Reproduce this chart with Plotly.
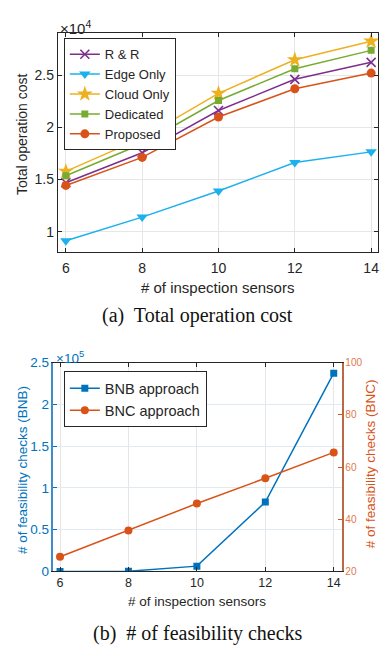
import plotly.graph_objects as go

W, H = 380, 652
def px(x): return x / W
def py(y): return 1 - y / H

# ---------------- data ----------------
sensors = [6, 8, 10, 12, 14]
rr = [14700, 17570, 21630, 24620, 26250]
edge_only = [9130, 11400, 13900, 16630, 17660]
cloud_only = [15790, 19000, 23280, 26500, 28280]
dedicated = [15370, 18440, 22590, 25630, 27400]
proposed = [14440, 17130, 21000, 23720, 25220]

bnb = [0, 300, 6300, 83000, 237400]
bnc = [25.6, 35.7, 46.0, 55.7, 65.6]

top_yticks = [10000, 15000, 20000, 25000]
top_yticktext = ["1", "1.5", "2", "2.5"]
bot_yticks = [0, 50000, 100000, 150000, 200000, 250000]
bot_yticktext = ["0", "0.5", "1", "1.5", "2", "2.5"]
right_yticks = [20, 40, 60, 80, 100]

DARK = "#262626"
GRID = "#E6E6E6"
BLUE = "#0072BD"
ORANGE = "#D95319"
FONT = "Liberation Sans"
SERIF = "Liberation Serif"

fig = go.Figure()

series = [
    ("R & R", rr, "#7E2F8E", "x-thin", 9),
    ("Edge Only", edge_only, "#1BB0EE", "triangle-down", 10),
    ("Cloud Only", cloud_only, "#EDB120", "star", 12),
    ("Dedicated", dedicated, "#77AC30", "square", 7),
    ("Proposed", proposed, ORANGE, "circle", 9),
]
for name, vals, col, sym, sz in series:
    fig.add_trace(go.Scatter(
        x=sensors, y=vals, name=name, mode="lines+markers",
        line=dict(color=col, width=1.5),
        marker=dict(symbol=sym, size=sz, color=col,
                    line=dict(color=col, width=1.6 if sym == "x-thin" else 0)),
        xaxis="x", yaxis="y", legend="legend"))

fig.add_trace(go.Scatter(
    x=sensors, y=bnb, name="BNB approach", mode="lines+markers",
    line=dict(color=BLUE, width=1.5),
    marker=dict(symbol="square", size=7, color=BLUE),
    xaxis="x2", yaxis="y2", legend="legend2"))
fig.add_trace(go.Scatter(
    x=sensors, y=bnc, name="BNC approach", mode="lines+markers",
    line=dict(color=ORANGE, width=1.5),
    marker=dict(symbol="circle", size=8, color=ORANGE),
    xaxis="x2", yaxis="y3", legend="legend2"))

axis_common = dict(showgrid=True, gridcolor=GRID, gridwidth=1, zeroline=False,
                   ticks="inside", ticklen=4, showline=True, linewidth=1)

fig.update_layout(
    width=W, height=H, margin=dict(l=0, r=0, t=0, b=0),
    paper_bgcolor="white", plot_bgcolor="white",
    font=dict(family=FONT, color=DARK, size=13),
    xaxis=dict(domain=[px(58), px(379)], range=[5.79, 14.18], anchor="y",
               tickvals=sensors, linecolor=DARK, tickcolor=DARK, mirror="ticks",
               tickfont=dict(size=14, color=DARK), ticklabelstandoff=3,
               ticklabeloverflow="allow", **axis_common),
    yaxis=dict(domain=[py(251), py(27)], range=[8030, 29030], anchor="x",
               tickvals=top_yticks, ticktext=top_yticktext, linecolor=DARK,
               tickcolor=DARK, mirror="ticks", tickfont=dict(size=14, color=DARK),
               **axis_common),
    xaxis2=dict(domain=[px(53.5), px(342.5)], range=[5.805, 14.23], anchor="y2",
                tickvals=sensors, linecolor=DARK, tickcolor=DARK, mirror="ticks",
                tickfont=dict(size=12.5, color=DARK), ticklabeloverflow="allow",
                **axis_common),
    yaxis2=dict(domain=[py(577.7), py(364)], range=[0, 250000], anchor="x2",
                tickvals=bot_yticks, ticktext=bot_yticktext, linecolor="#3D8CCB",
                tickcolor=BLUE, tickfont=dict(size=13.5, color=BLUE),
                showgrid=True, gridcolor="#E1E9F1", zeroline=False, ticks="inside",
                ticklen=4, showline=True, linewidth=1.5, ticklabeloverflow="allow"),
    yaxis3=dict(overlaying="y2", side="right", anchor="x2", range=[20, 100],
                tickvals=right_yticks, linecolor="#B86A48", tickcolor=ORANGE,
                tickfont=dict(size=10, color="#E07A4C"), showgrid=False,
                zeroline=False, ticks="inside", ticklen=4, showline=True,
                linewidth=1.5, ticklabeloverflow="allow"),
    legend=dict(x=px(64), y=py(32), xanchor="left", yanchor="top",
                bgcolor="white", bordercolor=DARK, borderwidth=1,
                font=dict(size=13, color=DARK, family=FONT),
                tracegroupgap=0, itemwidth=30),
    legend2=dict(x=px(64), y=py(373), xanchor="left", yanchor="top",
                 bgcolor="white", bordercolor=DARK, borderwidth=1,
                 font=dict(size=14.5, color=DARK, family=FONT),
                 tracegroupgap=0, itemwidth=30),
    showlegend=True,
)

ann = [
    dict(text="×10<sup>4</sup>", x=px(58), y=py(21), xanchor="left", yanchor="middle",
         font=dict(size=15, color=DARK)),
    dict(text="Total operation cost", x=px(21.5), y=py(129.5), textangle=-90,
         xanchor="center", yanchor="middle", font=dict(size=14, color=DARK)),
    dict(text="# of inspection sensors", x=px(218), y=py(287), xanchor="center",
         yanchor="middle", font=dict(size=15, color=DARK)),
    dict(text="(a)  Total operation cost", x=px(198.5), y=py(316), xanchor="center",
         yanchor="middle", font=dict(size=20, color="#111111", family=SERIF)),
    dict(text="×10<sup>5</sup>", x=px(54), y=py(358), xanchor="left", yanchor="middle",
         font=dict(size=13.5, color=BLUE)),
    dict(text="# of feasibility checks (BNB)", x=px(22), y=py(474), textangle=-90,
         xanchor="center", yanchor="middle", font=dict(size=13.5, color=BLUE)),
    dict(text="# of feasibility checks (BNC)", x=px(371), y=py(468), textangle=-90,
         xanchor="center", yanchor="middle", font=dict(size=13.5, color=ORANGE)),
    dict(text="# of inspection sensors", x=px(198), y=py(608), xanchor="center",
         yanchor="middle", font=dict(size=13.5, color=DARK)),
    dict(text="(b)  # of feasibility checks", x=px(199), y=py(641), xanchor="center",
         yanchor="middle", font=dict(size=20, color="#111111", family=SERIF)),
]
for a in ann:
    a.update(xref="paper", yref="paper", showarrow=False)
fig.update_layout(annotations=ann)

fig.write_html("out.html")
